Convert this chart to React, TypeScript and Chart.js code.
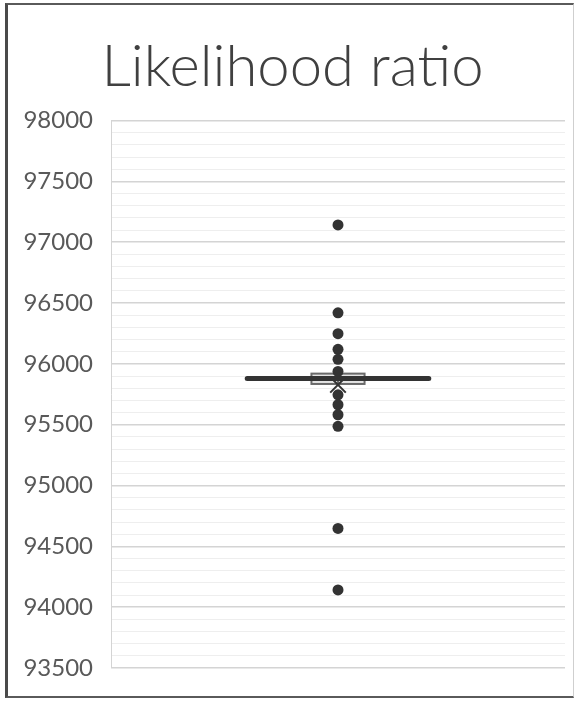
import React, { useEffect, useRef } from "react";
import { Chart, registerables } from "chart.js";

Chart.register(...registerables);

// ---- data ----
const chartTitle = "Likelihood ratio";
const categoryPos = [0];
const outlierValues = [97142, 96420, 96248, 96120, 96038, 95938, 95746, 95664, 95582, 95487, 94647, 94142];
const boxQ1 = [95835];
const boxQ3 = [95920];
const boxMedian = [95880];
const boxMean = [95828];
const whiskerLow = [95880];
const whiskerHigh = [95880];
const yMin = 93500;
const yMax = 98000;
const majorStep = 500;
const minorStep = 100;

// ---- style ----
const BOX_HALF = 0.117; // in x-scale units
const CAP_HALF = 0.4;
const DARK = "#333333";

const boxPlugin = {
  id: "boxDraw",
  beforeDatasetsDraw(chart: any) {
    const { ctx, scales } = chart;
    const xs = scales.x;
    const ys = scales.y;
    categoryPos.forEach((cx, i) => {
      const xl = xs.getPixelForValue(cx - BOX_HALF);
      const xr = xs.getPixelForValue(cx + BOX_HALF);
      const xc = xs.getPixelForValue(cx);
      const cl = xs.getPixelForValue(cx - CAP_HALF);
      const cr = xs.getPixelForValue(cx + CAP_HALF);
      const yq1 = ys.getPixelForValue(boxQ1[i]);
      const yq3 = ys.getPixelForValue(boxQ3[i]);
      const ym = ys.getPixelForValue(boxMedian[i]);
      const ywl = ys.getPixelForValue(whiskerLow[i]);
      const ywh = ys.getPixelForValue(whiskerHigh[i]);
      ctx.save();
      // box
      ctx.fillStyle = "#e4e4e4";
      ctx.strokeStyle = "#6a6a6a";
      ctx.lineWidth = 2;
      ctx.fillRect(xl, yq3, xr - xl, yq1 - yq3);
      ctx.strokeRect(xl, yq3, xr - xl, yq1 - yq3);
      // median
      ctx.beginPath();
      ctx.moveTo(xl, ym);
      ctx.lineTo(xr, ym);
      ctx.stroke();
      // whiskers
      ctx.beginPath();
      ctx.moveTo(xc, yq1);
      ctx.lineTo(xc, ywl);
      ctx.moveTo(xc, yq3);
      ctx.lineTo(xc, ywh);
      ctx.stroke();
      // caps
      ctx.strokeStyle = DARK;
      ctx.lineWidth = 5;
      ctx.lineCap = "round";
      ctx.beginPath();
      ctx.moveTo(cl, ywl);
      ctx.lineTo(cr, ywl);
      ctx.moveTo(cl, ywh);
      ctx.lineTo(cr, ywh);
      ctx.stroke();
      ctx.restore();
    });
  },
};

export default function App() {
  const ref = useRef<HTMLCanvasElement | null>(null);

  useEffect(() => {
    if (!ref.current) return;
    const chart = new Chart(ref.current, {
      type: "scatter",
      data: {
        datasets: [
          {
            label: "Outliers",
            data: outlierValues.map((v) => ({ x: categoryPos[0], y: v })),
            backgroundColor: DARK,
            borderColor: DARK,
            pointRadius: 5.5,
            pointHoverRadius: 5.5,
            borderWidth: 0,
          },
          {
            label: "Mean",
            data: boxMean.map((v, i) => ({ x: categoryPos[i], y: v })),
            pointStyle: "crossRot",
            borderColor: DARK,
            backgroundColor: DARK,
            pointRadius: 11,
            borderWidth: 2,
          },
        ],
      },
      options: {
        animation: false,
        responsive: false,
        layout: { padding: { left: 20, right: 15, top: 0, bottom: 33 } },
        plugins: {
          legend: { display: false },
          tooltip: { enabled: false },
          title: {
            display: true,
            text: chartTitle,
            color: "#404040",
            font: { family: "Lato", size: 58, weight: "300" as any, lineHeight: 1.2 },
            padding: { top: 32, bottom: 19 },
          },
        },
        scales: {
          x: {
            type: "linear",
            display: false,
            min: -1,
            max: 1,
          },
          y: {
            min: yMin,
            max: yMax,
            afterFit: (scale: any) => {
              scale.width = 91;
            },
            ticks: {
              stepSize: minorStep,
              autoSkip: false,
              padding: 18,
              color: "#595959",
              font: { family: "Lato", size: 24 },
              callback: (v: any) => (Number(v) % majorStep === 0 ? String(v) : ""),
            },
            grid: {
              drawTicks: false,
              color: (c: any) => (c.tick && c.tick.value % majorStep === 0 ? "#d4d4d4" : "#eeeeee"),
              lineWidth: (c: any) => (c.tick && c.tick.value % majorStep === 0 ? 1.5 : 1),
            },
            border: { display: true, color: "#d4d4d4" },
          },
        },
      },
      plugins: [boxPlugin],
    });
    return () => chart.destroy();
  }, []);

  return (
    <div style={{ position: "absolute", left: 0, top: 0, width: 580, height: 701, background: "#fff" }}>
      <div
        style={{
          position: "absolute",
          left: 5,
          top: 3,
          width: 569,
          height: 695,
          borderLeft: "3px solid #4a4a4a",
          borderTop: "2px solid #5a5a5a",
          borderBottom: "2px solid #5a5a5a",
          borderRight: "1px solid #cfcfcf",
          boxSizing: "border-box",
        }}
      />
      <canvas ref={ref} width={580} height={701} style={{ position: "absolute", left: 0, top: 0, width: 580, height: 701 }} />
    </div>
  );
}
